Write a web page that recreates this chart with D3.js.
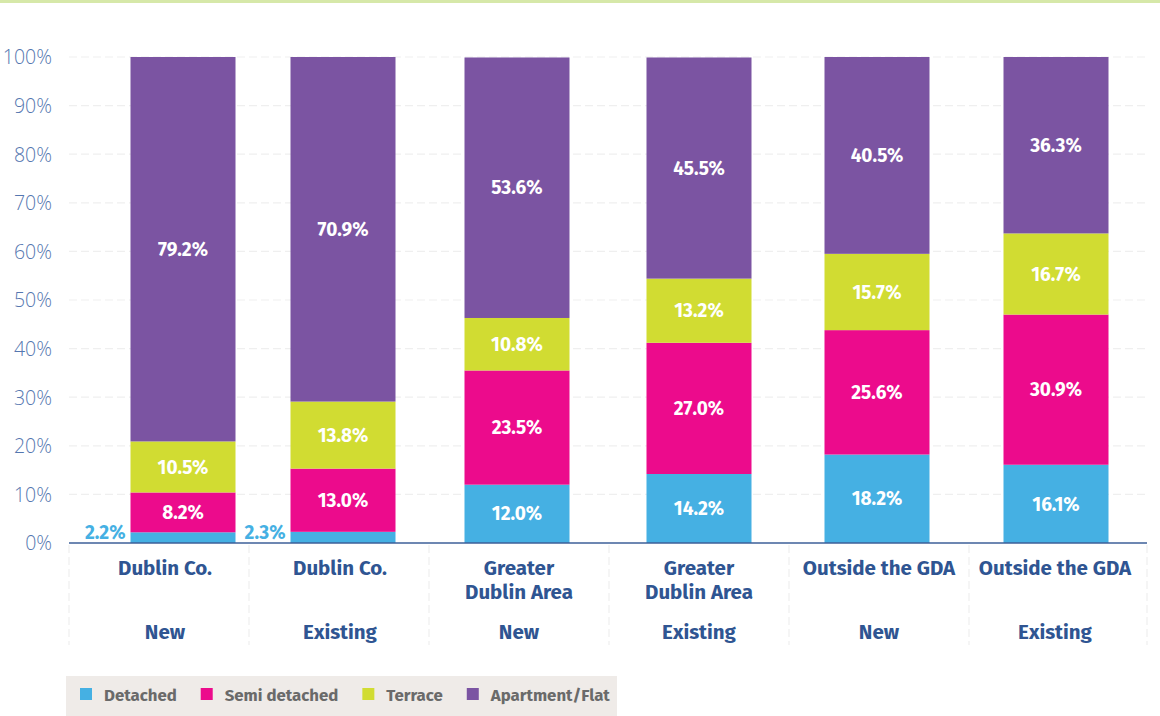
<!DOCTYPE html>
<html><head><meta charset="utf-8">
<script src="https://cdn.jsdelivr.net/npm/d3@7"></script>
<style>
body{margin:0;background:#fff;}
svg{display:block;font-family:"Fira Sans","Open Sans","Noto Sans",sans-serif;}
</style></head>
<body><svg id="c" width="1160" height="716"></svg>
<script>
// ---- data ----
const regions = [["Dublin Co."],["Dublin Co."],["Greater","Dublin Area"],["Greater","Dublin Area"],["Outside the GDA"],["Outside the GDA"]];
const statusLabels = ["New","Existing","New","Existing","New","Existing"];
const seriesNames = ["Detached","Semi detached","Terrace","Apartment/Flat"];
const detached = [2.2, 2.3, 12.0, 14.2, 18.2, 16.1];
const semiDetached = [8.2, 13.0, 23.5, 27.0, 25.6, 30.9];
const terrace = [10.5, 13.8, 10.8, 13.2, 15.7, 16.7];
const apartment = [79.2, 70.9, 53.6, 45.5, 40.5, 36.3];
const yTicks = [0,10,20,30,40,50,60,70,80,90,100];

// ---- layout ----
const colors = ["#45b0e3","#ec0b8c","#d1dc32","#7b54a2"];
const plotL = 69, plotR = 1149, plotT = 57, plotB = 543;
const barW = 105;
const barShift = [24, 4, -2, 0, -2, -3];
const labelShift = [6, 1, 0, 0, 0, -4];

const svg = d3.select("#c");
svg.append("rect").attr("x",0).attr("y",0).attr("width",1160).attr("height",3).attr("fill","#d6e8a9");

const idx = d3.range(regions.length);
const x = d3.scaleBand().domain(idx).range([plotL, plotR]).padding(0);
const y = d3.scaleLinear().domain([0,100]).range([plotB, plotT]);

// gridlines
svg.append("g").selectAll("line").data(yTicks.filter(d=>d>0)).join("line")
  .attr("x1",plotL).attr("x2",plotR-2).attr("y1",d=>y(d)).attr("y2",d=>y(d))
  .attr("stroke","#efefef").attr("stroke-width",1.2).attr("stroke-dasharray","8,4");

// y axis labels
const yAxis = d3.axisLeft(y).tickValues(yTicks).tickFormat(d=>d+"%").tickSize(0).tickPadding(0);
const yg = svg.append("g").attr("transform",`translate(${52},0)`).call(yAxis);
yg.select(".domain").remove();
yg.selectAll("text").attr("fill","#5577b0").attr("font-size",19.5).attr("font-weight",300)
  .attr("font-family","'Open Sans',sans-serif").attr("dy","0.35em");

// separators
svg.append("g").selectAll("line").data(d3.range(regions.length+1)).join("line")
  .attr("x1",d=>d<regions.length?x(d):plotR-2).attr("x2",d=>d<regions.length?x(d):plotR-2)
  .attr("y1",plotB+2).attr("y2",645)
  .attr("stroke","#efefef").attr("stroke-width",1.2).attr("stroke-dasharray","8,4");

// stacks
const table = idx.map(i=>({i, d0:detached[i], d1:semiDetached[i], d2:terrace[i], d3:apartment[i]}));
const stack = d3.stack().keys(["d0","d1","d2","d3"])(table);
const barX = i => x(i) + x.bandwidth()/2 + barShift[i] - barW/2;

const layers = svg.append("g").selectAll("g").data(stack).join("g").attr("fill",(d,k)=>colors[k]);
layers.selectAll("rect").data(d=>d).join("rect")
  .attr("x",d=>barX(d.data.i)).attr("width",barW)
  .attr("y",d=>y(Math.min(d[1],100))).attr("height",d=>y(d[0])-y(Math.min(d[1],100)));

// value labels
stack.forEach((layer,k)=>{
  layer.forEach(d=>{
    const v = d[1]-d[0];
    const txt = v.toFixed(1)+"%";
    if (v < 5) {
      svg.append("text").attr("x",barX(d.data.i)-5).attr("y",y(d[0])-4)
        .attr("text-anchor","end").attr("fill",colors[k]).attr("font-weight",700).attr("font-size",19).text(txt);
    } else {
      svg.append("text").attr("x",barX(d.data.i)+barW/2).attr("y",(y(d[0])+y(Math.min(d[1],100)))/2)
        .attr("dy","0.35em").attr("text-anchor","middle").attr("fill","#fff").attr("font-weight",700).attr("font-size",19).text(txt);
    }
  });
});

// x axis line
svg.append("line").attr("x1",plotL).attr("x2",plotR-2).attr("y1",plotB).attr("y2",plotB)
  .attr("stroke","#3c5f98").attr("stroke-width",1.5);

// category labels
const cat = svg.append("g");
idx.forEach(i=>{
  const cx = x(i)+x.bandwidth()/2+labelShift[i];
  regions[i].forEach((line,j)=>{
    cat.append("text").attr("x",cx).attr("y",575+j*24).attr("text-anchor","middle")
      .attr("fill","#2f5592").attr("font-weight",700).attr("font-size",20.5).text(line);
  });
  cat.append("text").attr("x",cx).attr("y",639).attr("text-anchor","middle")
    .attr("fill","#2f5592").attr("font-weight",700).attr("font-size",20.5).text(statusLabels[i]);
});

// legend
const lg = svg.append("g");
lg.append("rect").attr("x",66).attr("y",676).attr("width",551).attr("height",40).attr("fill","#efebe8");
let lx = 80;
seriesNames.forEach((n,k)=>{
  const g = lg.append("g");
  g.append("rect").attr("x",lx).attr("y",688).attr("width",12).attr("height",12).attr("fill",colors[k]);
  const t = g.append("text").attr("x",lx+24).attr("y",701).attr("fill","#6a6a6a").attr("font-weight",700)
    .attr("font-size",16.8).text(n);
  const w = t.node().getComputedTextLength();
  lx += 24 + w + 24;
});
</script></body></html>
